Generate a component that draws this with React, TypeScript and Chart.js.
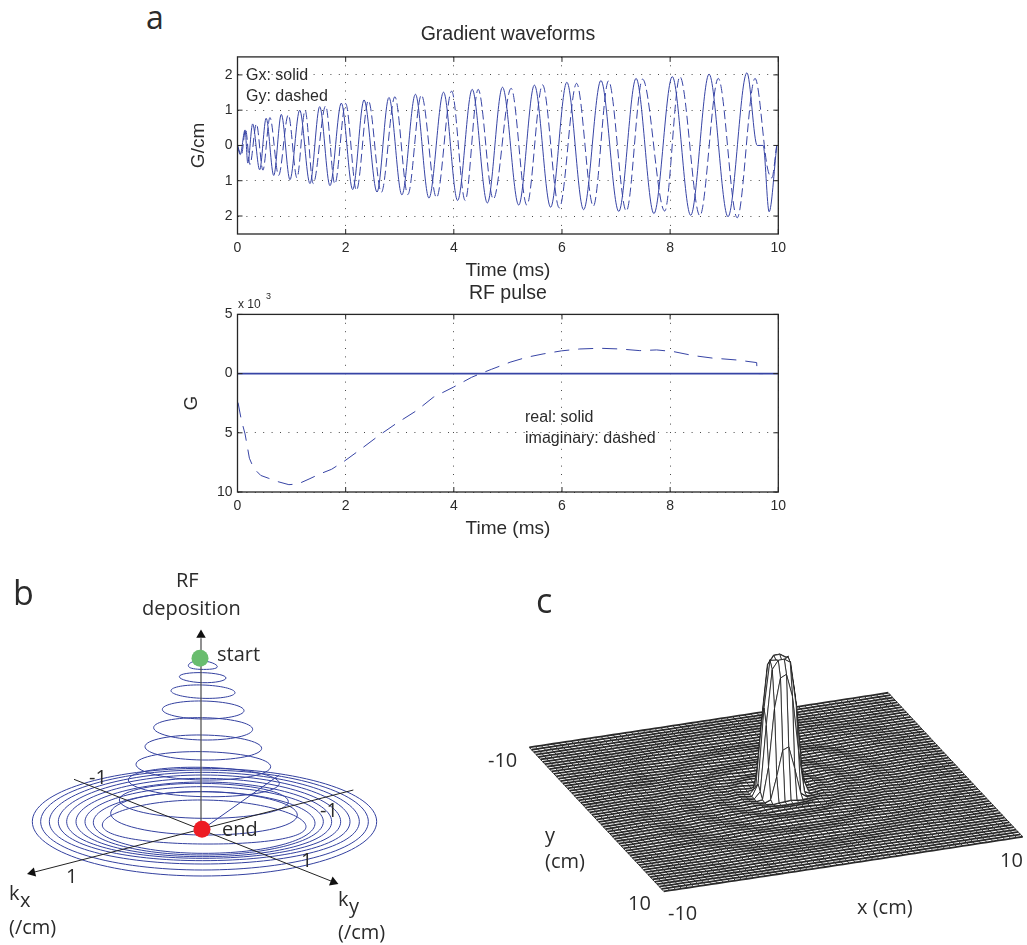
import React, { useEffect, useRef } from "react";
import { Chart, registerables } from "chart.js";

Chart.register(...registerables);

// ---------- panel a, gradient waveforms (extrema) ----------
const gxTime = [0, 0.05, 0.14, 0.19, 0.28, 0.41, 0.53, 0.67, 0.81, 0.97, 1.15, 1.34, 1.52, 1.71, 1.92, 2.13, 2.34, 2.58, 2.8, 3.04, 3.29, 3.54, 3.81, 4.07, 4.34, 4.62, 4.9, 5.2, 5.49, 5.79, 6.09, 6.4, 6.72, 7.05, 7.37, 7.7, 8.04, 8.38, 8.72, 9.07, 9.42, 9.61, 9.72, 9.83, 9.97];
const gxValue = [0, -0.26, 0.44, -0.5, 0.61, -0.69, 0.77, -0.85, 0.88, -0.97, 1.0, -1.08, 1.1, -1.14, 1.2, -1.25, 1.29, -1.32, 1.36, -1.4, 1.45, -1.49, 1.51, -1.56, 1.59, -1.63, 1.65, -1.69, 1.71, -1.75, 1.79, -1.82, 1.84, -1.87, 1.9, -1.93, 1.95, -1.98, 2.02, -2.02, 2.06, 0, 0, -1.88, -0.03];
const gyTime = [0, 0.07, 0.15, 0.23, 0.35, 0.47, 0.6, 0.76, 0.94, 1.1, 1.25, 1.4, 1.63, 1.8, 2.0, 2.2, 2.42, 2.66, 2.91, 3.15, 3.4, 3.68, 3.96, 4.21, 4.45, 4.73, 5.06, 5.35, 5.64, 5.95, 6.27, 6.58, 6.86, 7.19, 7.49, 7.9, 8.18, 8.55, 8.89, 9.24, 9.57, 9.8, 9.88, 9.97];
const gyValue = [0, -0.28, 0.46, -0.54, 0.61, -0.7, 0.79, -0.85, 0.87, -0.92, 1.0, -1.08, 1.12, -1.09, 1.19, -1.27, 1.27, -1.33, 1.38, -1.39, 1.43, -1.48, 1.54, -1.56, 1.59, -1.52, 1.62, -1.69, 1.72, -1.77, 1.76, -1.72, 1.83, -1.86, 1.88, -1.86, 1.95, -1.99, 1.9, -2.05, 1.9, -0.64, -0.92, 0];
const gradTicks = [-2, -1, 0, 1, 2];
const timeTicks = [0, 2, 4, 6, 8, 10];

// ---------- panel a, RF pulse ----------
const rfTime = [0.01, 0.07, 0.14, 0.22, 0.3, 0.43, 0.58, 0.75, 0.95, 1.12, 1.34, 1.52, 1.74, 1.98, 2.26, 2.63, 2.94, 3.31, 3.62, 3.99, 4.33, 4.51, 4.7, 5.04, 5.35, 5.65, 5.99, 6.33, 6.7, 7.07, 7.44, 7.75, 8.06, 8.43, 8.8, 8.9, 9.23, 9.6, 9.61, 9.72];
const rfImag = [-2.45, -3.9, -5.1, -7.15, -8.0, -8.6, -8.85, -9.13, -9.38, -9.32, -8.87, -8.48, -8.08, -7.38, -6.45, -5.18, -4.2, -3.13, -2.0, -1.15, -0.31, 0.03, 0.37, 0.96, 1.38, 1.66, 1.92, 2.08, 2.14, 2.08, 1.94, 2.0, 1.86, 1.52, 1.3, 1.27, 1.15, 0.93, 0, 0];
const rfRealTime = [0, 10];
const rfReal = [0, 0];
const rfTicks = [-10, -5, 0, 5];

// ---------- panel b, spiral read turn by turn ----------
const ringTopX = [600, 608, 608, 608, 608, 608, 608, 608, 608, 608, 608, 608, 608, 608, 608, 608, 608, 608, 608];
const ringTopY = [272, 308, 345, 393, 443, 495, 545, 592, 640, 665, 690, 665, 650, 636, 625, 615, 607, 600, 595];
const ringLeftX = [565, 538, 513, 487, 461, 435, 408, 385, 358, 332, 307, 280, 255, 228, 200, 175, 148, 122, 97];
const ringLeftY = [287, 320, 362, 418, 473, 530, 583, 630, 690, 730, 765, 757, 755, 755, 755, 755, 755, 755, 755];
const ringBottomY = [298, 338, 385, 447, 510, 570, 630, 680, 745, 795, 822, 850, 855, 860, 865, 872, 882, 900, 918];
const ringRightX = [652, 678, 705, 732, 758, 785, 812, 838, 865, 892, 918, 945, 970, 995, 1022, 1050, 1078, 1105, 1130];
const ringRightY = [290, 324, 368, 422, 478, 535, 590, 640, 695, 735, 770, 760, 755, 755, 755, 755, 755, 755, 755];
const returnX = [838, 607];
const returnY = [615, 778];
const axisRF = [[603, 775], [603, 205]];
const axisKx = [[1060, 660], [100, 907]];
const axisKy = [[222, 628], [998, 935]];
const arrowX = [603, 97, 1000];
const arrowY = [195, 908, 936];
const arrowAngle = [0, 256, 112];
const startPoint = [600, 265];
const endPoint = [606, 778];

// ---------- panel c, surface ----------
const radiiCm = [0, 0.3, 0.55, 0.68, 0.82, 0.97, 1.1, 1.22, 1.35, 1.6, 2.2, 2.8, 3.5, 4.5, 5.5, 6.5, 8, 10, 15];
const heights = [0.93, 1.0, 0.98, 0.9, 0.72, 0.45, 0.22, 0.05, 0, -0.008, 0.004, -0.004, 0.004, -0.003, 0.003, -0.003, 0.003, -0.002, 0];
const peakCentre = [0.2, 0];
const meshCells = 60;
const meshSpan = [-10, 10];

const INK = "#2b2b2b";
const BLUE = "#3744a5";
const RING = "#33409f";
const SANS = '"Liberation Sans", Arial, sans-serif';
const HUMAN = '"Open Sans", "Noto Sans", sans-serif';

const zip = (xs: number[], ys: number[]) => xs.map((x, i) => ({ x, y: ys[i] }));

const framePlugin = {
  id: "frame",
  afterDatasetsDraw(chart: any) {
    const { ctx, chartArea: a, scales } = chart;
    ctx.save();
    ctx.strokeStyle = "#262626";
    ctx.lineWidth = 1.3;
    ctx.strokeRect(a.left, a.top, a.right - a.left, a.bottom - a.top);
    ctx.lineWidth = 1;
    ctx.beginPath();
    const len = 5;
    scales.x.ticks.forEach((t: any) => {
      const px = scales.x.getPixelForValue(t.value);
      ctx.moveTo(px, a.top);
      ctx.lineTo(px, a.top + len);
      ctx.moveTo(px, a.bottom);
      ctx.lineTo(px, a.bottom - len);
    });
    scales.y.ticks.forEach((t: any) => {
      const py = scales.y.getPixelForValue(t.value);
      ctx.moveTo(a.left, py);
      ctx.lineTo(a.left + len, py);
      ctx.moveTo(a.right, py);
      ctx.lineTo(a.right - len, py);
    });
    ctx.stroke();
    ctx.restore();
  },
};

function timeChartOptions(title: string, yTitle: string, yMin: number, yMax: number, yTicks: number[], titlePad: any, yTitlePad: number) {
  const grid = { color: "#4a4a4a", lineWidth: 1, drawTicks: false };
  const border = { display: false, dash: [1, 7.4] };
  const tickFont = { family: SANS, size: 14 };
  const axisFont = { family: SANS, size: 19 };
  return {
    responsive: false,
    animation: false,
    layout: { padding: { right: 50.7, left: 0, top: 0, bottom: 0 } },
    plugins: {
      legend: { display: false },
      tooltip: { enabled: false },
      title: { display: true, text: title, color: INK, font: { family: SANS, size: 19.5, weight: "normal" }, padding: titlePad, fullSize: false },
    },
    scales: {
      x: {
        type: "linear",
        min: 0,
        max: 10,
        grid,
        border,
        afterBuildTicks: (s: any) => { s.ticks = timeTicks.map((value) => ({ value })); },
        afterFit: (s: any) => { s.height = 48; },
        ticks: { color: INK, font: tickFont, padding: 6, maxRotation: 0, autoSkip: false },
        title: { display: true, text: "Time (ms)", color: INK, font: axisFont, padding: { top: 0, bottom: 0 } },
      },
      y: {
        type: "linear",
        min: yMin,
        max: yMax,
        grid,
        border,
        afterBuildTicks: (s: any) => { s.ticks = yTicks.map((value) => ({ value })); },
        afterFit: (s: any) => { s.width = 57.5; },
        ticks: { color: INK, font: tickFont, padding: 5, callback: (v: number) => String(Math.abs(v)), autoSkip: false },
        title: { display: true, text: yTitle, color: INK, font: axisFont, padding: { top: yTitlePad, bottom: 0 } },
      },
    },
  };
}

function line(data: any[], extra: any = {}) {
  return { data, showLine: true, pointRadius: 0, borderColor: BLUE, borderWidth: 1, fill: false, ...extra };
}

function gradientConfig() {
  return {
    type: "scatter",
    data: {
      datasets: [
        line(zip(gxTime, gxValue), { cubicInterpolationMode: "monotone", label: "Gx" }),
        line(zip(gyTime, gyValue), { cubicInterpolationMode: "monotone", borderDash: [9, 4], label: "Gy" }),
      ],
    },
    options: timeChartOptions("Gradient waveforms", "G/cm", -2.51, 2.51, gradTicks, { top: 3, bottom: 10.5 }, 7),
    plugins: [framePlugin],
  };
}

function rfConfig() {
  return {
    type: "scatter",
    data: {
      datasets: [
        line(zip(rfRealTime, rfReal), { borderWidth: 1.6, label: "real" }),
        line(zip(rfTime, rfImag), { borderDash: [15, 9], label: "imaginary" }),
      ],
    },
    options: timeChartOptions("RF pulse", "G", -10, 5, rfTicks, { top: 2, bottom: 9 }, 0),
    plugins: [framePlugin],
  };
}

function hiddenScales(w: number, h: number) {
  return {
    x: { type: "linear", display: false, min: 0, max: w },
    y: { type: "linear", display: false, min: 0, max: h, reverse: true },
  };
}

function spiralConfig() {
  // each turn: left, top, right, bottom, left, top, right; the first and last arcs only steady the spline
  const turns = ringTopY.map((_, i) => {
    const top = { x: ringTopX[i], y: ringTopY[i] };
    const right = { x: ringRightX[i], y: ringRightY[i] };
    const bottom = { x: ringTopX[i], y: ringBottomY[i] };
    const left = { x: ringLeftX[i], y: ringLeftY[i] };
    return line([left, top, right, bottom, left, top, right], {
      tension: 0.55,
      segment: {
        borderColor: (c: any) => (c.p0DataIndex === 0 || c.p0DataIndex === 5 ? "rgba(0,0,0,0)" : RING),
      },
    });
  });
  const toPts = (p: number[][]) => p.map(([x, y]) => ({ x, y }));
  return {
    type: "scatter",
    data: {
      datasets: [
        { data: [{ x: endPoint[0], y: endPoint[1] }], pointRadius: 8.5, pointBackgroundColor: "#ed1c24", pointBorderWidth: 0 },
        { data: [{ x: startPoint[0], y: startPoint[1] }], pointRadius: 8.5, pointBackgroundColor: "#69bd6e", pointBorderWidth: 0 },
        { data: zip(arrowX, arrowY), pointStyle: "triangle", pointRadius: 5.5, pointRotation: arrowAngle, pointBackgroundColor: "#111", pointBorderWidth: 0 },
        line(toPts(axisKx), { borderColor: "#222", borderWidth: 1 }),
        line(toPts(axisKy), { borderColor: "#222", borderWidth: 1 }),
        line(toPts(axisRF), { borderColor: "#555", borderWidth: 1.3 }),
        line(zip(returnX, returnY), { borderWidth: 1, borderColor: RING }),
        ...turns,
      ],
    },
    options: {
      responsive: false,
      animation: false,
      layout: { autoPadding: false },
      plugins: { legend: { display: false }, tooltip: { enabled: false } },
      scales: hiddenScales(1260, 1125),
    },
  };
}

function heightAt(r: number) {
  for (let i = 1; i < radiiCm.length; i++) {
    if (r <= radiiCm[i]) {
      const f = (r - radiiCm[i - 1]) / (radiiCm[i] - radiiCm[i - 1]);
      return heights[i - 1] + f * (heights[i] - heights[i - 1]);
    }
  }
  return 0;
}

function surfaceConfig() {
  // orthographic view of the x / y / z axes in the picture
  const view = { cx: 286, cy: 212, xx: 17.95, xy: -2.73, yx: 6.72, yy: 7.2, z: 135 };
  const radius = (gx: number, gy: number) => Math.hypot(gx - peakCentre[0], gy - peakCentre[1]);
  const project = (gx: number, gy: number) => {
    const z = heightAt(radius(gx, gy));
    return { x: view.cx + gx * view.xx + gy * view.yx, y: view.cy + gx * view.xy + gy * view.yy - z * view.z };
  };
  const coords: number[] = [];
  for (let i = 0; i <= meshCells; i++) coords.push(meshSpan[0] + ((meshSpan[1] - meshSpan[0]) * i) / meshCells);
  const rows = coords.map((gy) => line(coords.map((gx) => project(gx, gy)), { borderColor: "#2a2a2a", borderWidth: 1.8 }));
  const cols = coords.map((gx) => line(coords.map((gy) => project(gx, gy)), { borderColor: "#3a3a3a", borderWidth: 1 }));
  // facets of the peak, drawn far to near
  const facets: any[] = [];
  for (let j = 0; j < meshCells; j++) {
    for (let i = 0; i < meshCells; i++) {
      const a = coords[i], b = coords[i + 1], c = coords[j], d = coords[j + 1];
      if (radius((a + b) / 2, (c + d) / 2) > 1.5) continue;
      const pts = [project(a, c), project(b, c), project(b, d), project(a, d), project(a, c)];
      facets.push({
        depth: (a + b) / 2 * view.xy + (c + d) / 2 * view.yy,
        ds: line(pts, { borderColor: "#1c1c1c", borderWidth: 0.8, fill: "shape", backgroundColor: "#ffffff" }),
      });
    }
  }
  facets.sort((p, q) => q.depth - p.depth); // nearest first = painted last
  return {
    type: "scatter",
    data: { datasets: [...facets.map((f) => f.ds), ...rows, ...cols] },
    options: {
      responsive: false,
      animation: false,
      layout: { autoPadding: false },
      plugins: { legend: { display: false }, tooltip: { enabled: false } },
      scales: hiddenScales(537, 365),
    },
  };
}

function ChartBox({ make, left, top, width, height }: any) {
  const ref = useRef<HTMLCanvasElement>(null);
  useEffect(() => {
    const chart = new Chart(ref.current as any, make());
    return () => chart.destroy();
  }, [make]);
  return <canvas ref={ref} width={width} height={height} style={{ position: "absolute", left, top, width, height }} />;
}

function Label({ x, y, size = 16, family = SANS, children }: any) {
  return (
    <span style={{ position: "absolute", left: x, top: y - size * 0.6, fontFamily: family, fontSize: size, lineHeight: `${size * 1.2}px`, color: INK, whiteSpace: "nowrap" }}>
      {children}
    </span>
  );
}

export default function App() {
  return (
    <div style={{ position: "absolute", left: 0, top: 0, width: 1027, height: 945, overflow: "hidden", background: "#fff" }}>
      <ChartBox make={spiralConfig} left={0} top={570} width={420} height={375} />
      <ChartBox make={surfaceConfig} left={490} top={580} width={537} height={365} />
      <ChartBox make={gradientConfig} left={180} top={20} width={649} height={262} />
      <ChartBox make={rfConfig} left={180} top={280} width={649} height={260} />

      <Label x={146} y={17} size={32} family={HUMAN}>a</Label>
      <Label x={13} y={592} size={34} family={HUMAN}>b</Label>
      <Label x={536} y={600} size={34} family={HUMAN}>c</Label>

      <Label x={246} y={75}>Gx: solid</Label>
      <Label x={246} y={96}>Gy: dashed</Label>
      <Label x={525} y={417}>real: solid</Label>
      <Label x={525} y={438}>imaginary: dashed</Label>
      <Label x={238} y={304} size={12}>x 10</Label>
      <Label x={266} y={296} size={9}>3</Label>

      <Label x={176} y={580} size={20} family={HUMAN}>RF</Label>
      <Label x={142} y={608} size={20} family={HUMAN}>deposition</Label>
      <Label x={217} y={654} size={20} family={HUMAN}>start</Label>
      <Label x={222} y={829} size={20} family={HUMAN}>end</Label>
      <Label x={89} y={777} size={20} family={HUMAN}>-1</Label>
      <Label x={320} y={810} size={20} family={HUMAN}>-1</Label>
      <Label x={301} y={860} size={20} family={HUMAN}>1</Label>
      <Label x={66} y={876} size={20} family={HUMAN}>1</Label>
      <Label x={9} y={893} size={20} family={HUMAN}>k</Label>
      <Label x={20} y={900} size={20} family={HUMAN}>x</Label>
      <Label x={9} y={927} size={20} family={HUMAN}>(/cm)</Label>
      <Label x={338} y={899} size={20} family={HUMAN}>k</Label>
      <Label x={349} y={906} size={20} family={HUMAN}>y</Label>
      <Label x={338} y={932} size={20} family={HUMAN}>(/cm)</Label>

      <Label x={488} y={760} size={20} family={HUMAN}>-10</Label>
      <Label x={545} y={835} size={20} family={HUMAN}>y</Label>
      <Label x={545} y={861} size={20} family={HUMAN}>(cm)</Label>
      <Label x={628} y={903} size={20} family={HUMAN}>10</Label>
      <Label x={668} y={913} size={20} family={HUMAN}>-10</Label>
      <Label x={857} y={907} size={20} family={HUMAN}>x (cm)</Label>
      <Label x={1000} y={860} size={20} family={HUMAN}>10</Label>
    </div>
  );
}
